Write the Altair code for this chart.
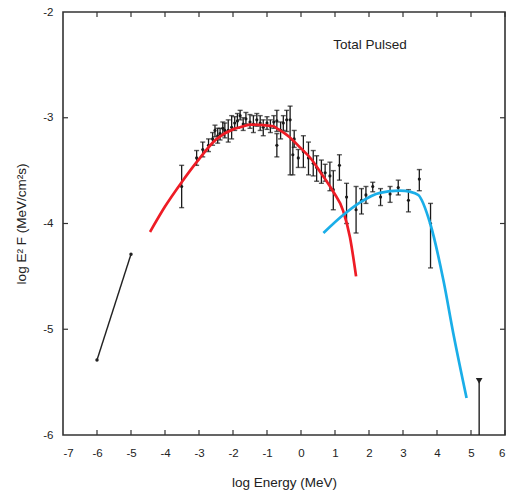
import altair as alt
import pandas as pd

# ---- data ----
x_ticks = list(range(-7, 7))
y_ticks = [-6, -5, -4, -3, -2]

# low-energy segment (two points joined by a line)
seg_x = [-6.0, -5.0]
seg_y = [-5.29, -4.29]

# red model curve
red_x = [-4.44, -4.0, -3.51, -3.07, -2.48, -2.0, -1.79, -1.50, -1.1, -0.81, -0.71, -0.35, -0.03, 0.30, 0.56, 0.95, 1.24, 1.44, 1.62]
red_y = [-4.08, -3.84, -3.61, -3.42, -3.20, -3.11, -3.09, -3.065, -3.07, -3.08, -3.10, -3.18, -3.28, -3.39, -3.51, -3.70, -3.88, -4.13, -4.50]

# blue model curve
blue_x = [0.66, 1.24, 1.74, 2.32, 2.91, 3.21, 3.45, 3.80, 4.19, 4.48, 4.87]
blue_y = [-4.09, -3.92, -3.80, -3.71, -3.69, -3.70, -3.73, -4.00, -4.54, -5.04, -5.65]

# measured points with error bars
pt_x  = [-3.51, -3.07, -2.89, -2.72, -2.60, -2.53, -2.45, -2.38, -2.30, -2.24, -2.14, -2.04, -1.95, -1.87, -1.79, -1.70, -1.62,
         -1.50, -1.40, -1.30, -1.20, -1.11, -1.00, -0.90, -0.80, -0.71, -0.71, -0.60, -0.52, -0.42, -0.32, -0.24, -0.20,
         -0.08, 0.07, 0.22, 0.36, 0.46, 0.60, 0.71, 0.85, 0.95, 1.13, 1.34, 1.62, 1.78, 1.91, 2.11, 2.34, 2.62, 2.86,
         3.16, 3.48, 3.81]
pt_y  = [-3.65, -3.38, -3.30, -3.26, -3.20, -3.12, -3.17, -3.15, -3.10, -3.12, -3.12, -3.09, -3.05, -3.03, -2.98, -3.06, -3.01,
         -3.04, -3.06, -3.02, -3.05, -3.09, -3.05, -3.08, -3.04, -3.03, -3.26, -3.12, -3.05, -3.02, -3.02, -3.35, -3.20,
         -3.38, -3.32, -3.38, -3.43, -3.47, -3.52, -3.52, -3.55, -3.68, -3.45, -3.75, -3.87, -3.78, -3.73, -3.65, -3.75, -3.72, -3.66,
         -3.78, -3.58, -4.00]
pt_lo = [-3.85, -3.45, -3.37, -3.32, -3.26, -3.18, -3.24, -3.21, -3.17, -3.19, -3.23, -3.20, -3.12, -3.10, -3.02, -3.12, -3.06,
         -3.10, -3.14, -3.08, -3.12, -3.17, -3.11, -3.14, -3.10, -3.13, -3.37, -3.20, -3.12, -3.13, -3.54, -3.54, -3.28,
         -3.47, -3.47, -3.54, -3.55, -3.60, -3.62, -3.60, -3.69, -3.87, -3.59, -4.00, -4.09, -3.91, -3.81, -3.70, -3.83, -3.80, -3.73,
         -3.89, -3.69, -4.42]
pt_hi = [-3.45, -3.31, -3.23, -3.20, -3.14, -3.07, -3.10, -3.10, -3.04, -3.05, -3.02, -2.98, -2.99, -2.96, -2.93, -3.00, -2.95,
         -2.97, -2.98, -2.96, -2.98, -3.02, -2.99, -3.02, -2.98, -2.93, -3.15, -3.04, -2.98, -2.93, -2.89, -3.21, -3.12,
         -3.30, -3.17, -3.23, -3.31, -3.36, -3.40, -3.44, -3.42, -3.50, -3.35, -3.62, -3.65, -3.67, -3.65, -3.61, -3.67, -3.65, -3.59,
         -3.68, -3.49, -3.81]

# upper limit
ul_x = [5.24]
ul_top = [-5.46]
ul_bottom = [-6.0]

label_x = [2.03]
label_y = [-2.31]
label_text = ["Total Pulsed"]

W, H = 442, 423
FONT = "Liberation Sans"

xs = alt.Scale(domain=[-7, 6], nice=False, zero=False)
ys = alt.Scale(domain=[-6, -2], nice=False, zero=False)

xaxis = alt.Axis(values=x_ticks, title="log Energy (MeV)", domain=False, ticks=False, tickSize=0,
                 grid=False, labelPadding=12, labelExpr="'' + datum.value", titlePadding=17)
yaxis = alt.Axis(values=y_ticks, title="log E² F (MeV/cm²s)", domain=False, ticks=False, tickSize=0,
                 grid=False, labelPadding=10, labelExpr="'' + datum.value", titlePadding=14)


def X(f):
    return alt.X(f, type="quantitative", scale=xs, axis=xaxis)


def Y(f):
    return alt.Y(f, type="quantitative", scale=ys, axis=yaxis)


seg_df = pd.DataFrame({"x": seg_x, "y": seg_y})
red_df = pd.DataFrame({"x": red_x, "y": red_y})
blue_df = pd.DataFrame({"x": blue_x, "y": blue_y})
pt_df = pd.DataFrame({"x": pt_x, "y": pt_y, "lo": pt_lo, "hi": pt_hi})
ul_df = pd.DataFrame({"x": ul_x, "top": ul_top, "bottom": ul_bottom})
lab_df = pd.DataFrame({"x": label_x, "y": label_y, "t": label_text})
xt_df = pd.DataFrame({"v": x_ticks[1:]})
yt_df = pd.DataFrame({"v": y_ticks[1:-1]})

seg_line = alt.Chart(seg_df).mark_line(color="#222", strokeWidth=1.4).encode(x=X("x"), y=Y("y"))
seg_pts = alt.Chart(seg_df).mark_circle(color="#222", size=12, opacity=1).encode(x=X("x"), y=Y("y"))

red = alt.Chart(red_df).mark_line(color="#ee1c25", strokeWidth=2.7, interpolate="monotone").encode(x=X("x"), y=Y("y"))
blue = alt.Chart(blue_df).mark_line(color="#1aaee8", strokeWidth=2.7, interpolate="monotone").encode(x=X("x"), y=Y("y"))

bars = alt.Chart(pt_df).mark_rule(color="#1a1a1a", strokeWidth=1.3).encode(x=X("x"), y=Y("lo"), y2="hi")
cap_lo = alt.Chart(pt_df).mark_tick(color="#1a1a1a", orient="horizontal", size=5, thickness=1.4).encode(x=X("x"), y=Y("lo"))
cap_hi = alt.Chart(pt_df).mark_tick(color="#1a1a1a", orient="horizontal", size=5, thickness=1.4).encode(x=X("x"), y=Y("hi"))
dots = alt.Chart(pt_df).mark_circle(color="#1a1a1a", size=10, opacity=1).encode(x=X("x"), y=Y("y"))

ul_rule = alt.Chart(ul_df).mark_rule(color="#222", strokeWidth=1.4).encode(x=X("x"), y=Y("top"), y2="bottom")
ul_tri = alt.Chart(ul_df).mark_point(shape="triangle-down", filled=True, color="#222", size=45, opacity=1,
                                     yOffset=3).encode(x=X("x"), y=Y("top"))

label = alt.Chart(lab_df).mark_text(font=FONT, fontSize=13.5, color="#222").encode(x=X("x"), y=Y("y"), text="t:N")

tick_b = alt.Chart(xt_df).mark_rule(color="#333", strokeWidth=1.2).encode(x=X("v"), y=alt.value(H), y2=alt.value(H - 5))
tick_t = alt.Chart(xt_df).mark_rule(color="#333", strokeWidth=1.2).encode(x=X("v"), y=alt.value(0), y2=alt.value(5))
tick_l = alt.Chart(yt_df).mark_rule(color="#333", strokeWidth=1.2).encode(y=Y("v"), x=alt.value(0), x2=alt.value(5))
tick_r = alt.Chart(yt_df).mark_rule(color="#333", strokeWidth=1.2).encode(y=Y("v"), x=alt.value(W), x2=alt.value(W - 5))

chart = alt.layer(
    tick_b, tick_t, tick_l, tick_r,
    seg_line, seg_pts, bars, cap_lo, cap_hi, dots, red, blue, ul_rule, ul_tri, label
).properties(
    width=W, height=H,
    autosize=alt.AutoSizeParams(type="none"),
    padding={"left": 63, "top": 12, "right": 7, "bottom": 67},
).configure_view(
    stroke="#333", strokeWidth=1.6
).configure_axis(
    labelFont=FONT, titleFont=FONT, labelFontSize=11.5, titleFontSize=13.5,
    labelColor="#222", titleColor="#222", titleFontWeight="normal"
)

chart.save("out.html", embed_options={"renderer": "svg", "actions": False})
